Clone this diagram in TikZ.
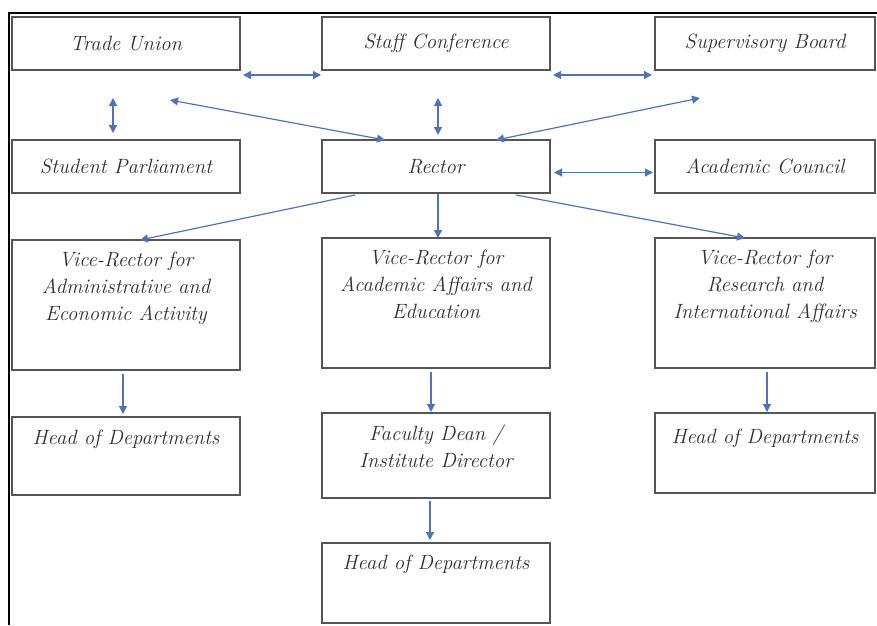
\documentclass[tikz,border=0pt]{standalone}
\usetikzlibrary{arrows.meta,calc}
\definecolor{linkblue}{HTML}{4F73BA}
\definecolor{boxgray}{HTML}{555555}
\definecolor{txtgray}{HTML}{2E2E2E}
\tikzset{
  box/.style={draw=boxgray, line width=1pt, inner sep=0pt, outer sep=0pt,
    minimum width=171pt, anchor=north west},
  boxtxt/.style={inner sep=0pt, align=center, text=txtgray,
    font=\fontsize{15.5}{20}\selectfont\itshape},
  link/.style={linkblue, line width=0.9pt,
    arrows={-Triangle[length=6pt,width=6pt]}},
  twolink/.style={linkblue, line width=0.9pt,
    arrows={Triangle[length=6pt,width=6pt]-Triangle[length=6pt,width=6pt]}}
}
\begin{document}
\begin{tikzpicture}[x=0.75pt,y=0.75pt,yscale=-1,xscale=1]
\useasboundingbox (0,0) rectangle (877,625);

%Frame
\draw[line width=2pt] (9,625) -- (9,13) -- (877,13);

%Top row
\node[box, minimum height=39.75pt] (tu) at (12,17) {};
\node[boxtxt] (tut) at (tu.center) {Trade Union};
\node[box, minimum height=39.75pt] (sc) at (322,17) {};
\node[boxtxt] (sct) at (sc.center) {Staff Conference};
\node[box, minimum height=39.75pt, minimum width=165pt] (sb) at (655,17) {};
\node[boxtxt] (sbt) at (sb.center) {Supervisory Board};

%Second row
\node[box, minimum height=39.75pt] (sp) at (12,140) {};
\node[boxtxt] (spt) at (sp.center) {Student Parliament};
\node[box, minimum height=39.75pt] (rc) at (322,140) {};
\node[boxtxt] (rct) at (rc.center) {Rector};
\node[box, minimum height=39.75pt, minimum width=165pt] (ac) at (655,140) {};
\node[boxtxt] (act) at (ac.center) {Academic Council};

%Vice-Rectors
\node[box, minimum height=97.5pt] (vra) at (12,240) {};
\node[boxtxt, anchor=north] (vrat) at ($(vra.north)+(0,12)$) {Vice-Rector for\\Administrative and\\Economic Activity};
\node[box, minimum height=97.5pt] (vrb) at (322,238) {};
\node[boxtxt, anchor=north] (vrbt) at ($(vrb.north)+(0,12)$) {Vice-Rector for\\Academic Affairs and\\Education};
\node[box, minimum height=97.5pt, minimum width=165pt] (vrc) at (655,238) {};
\node[boxtxt, anchor=north] (vrct) at ($(vrc.north)+(0,12)$) {Vice-Rector for\\Research and\\International Affairs};

%Heads
\node[box, minimum height=58.5pt] (hoda) at (12,417) {};
\node[boxtxt, anchor=north] (hodat) at ($(hoda.north)+(0,13)$) {Head of Departments};
\node[box, minimum height=63.75pt] (fd) at (322,413) {};
\node[boxtxt, anchor=north] (fdt) at ($(fd.north)+(0,12)$) {Faculty Dean /\\Institute Director};
\node[box, minimum height=60pt, minimum width=165pt] (hodc) at (655,413) {};
\node[boxtxt, anchor=north] (hodct) at ($(hodc.north)+(0,16)$) {Head of Departments};
\node[box, minimum height=60pt] (hodb) at (322,543) {};
\node[boxtxt, anchor=north] (hodbt) at ($(hodb.north)+(0,12)$) {Head of Departments};

%Free ends
\coordinate (tufree) at (170,100);
\coordinate (sbfree) at (700,98);

%Links
\draw[twolink] ($(tu.south east)+(3,5)$) -- ($(sc.south west)+(-1,5)$);
\draw[twolink] ($(sc.south east)+(3,5)$) -- ($(sb.south west)+(-3,5)$);
\draw[twolink] ($(tu.south)+(-13,28)$) -- ($(sp.north)+(-13,-7)$);
\draw[twolink] ($(sc.south)+(2,28)$) -- ($(rc.north)+(2,-5)$);
\draw[twolink] (tufree) -- ($(rc.north west)+(63,0)$);
\draw[twolink] (sbfree) -- ($(rc.north east)+(-54,0)$);
\draw[twolink] ($(rc.east)+(4,6)$) -- ($(ac.west)+(-2,6)$);
\draw[link] ($(rc.south west)+(33,2)$) -- ($(vra.north)+(14,0)$);
\draw[link] ($(rc.south)+(2,1)$) -- ($(vrb.north)+(2,0)$);
\draw[link] ($(rc.south east)+(-34,2)$) -- ($(vrc.north)+(-20,0)$);
\draw[link] ($(vra.south)+(-3,4)$) -- ($(hoda.north)+(-3,-3)$);
\draw[link] ($(vrb.south)+(-5,4)$) -- ($(fd.north)+(-5,-1)$);
\draw[link] ($(vrc.south)+(2,4)$) -- ($(hodc.north)+(2,-1)$);
\draw[link] ($(fd.south)+(-6,3)$) -- ($(hodb.north)+(-6,-3)$);

\end{tikzpicture}
\end{document}
